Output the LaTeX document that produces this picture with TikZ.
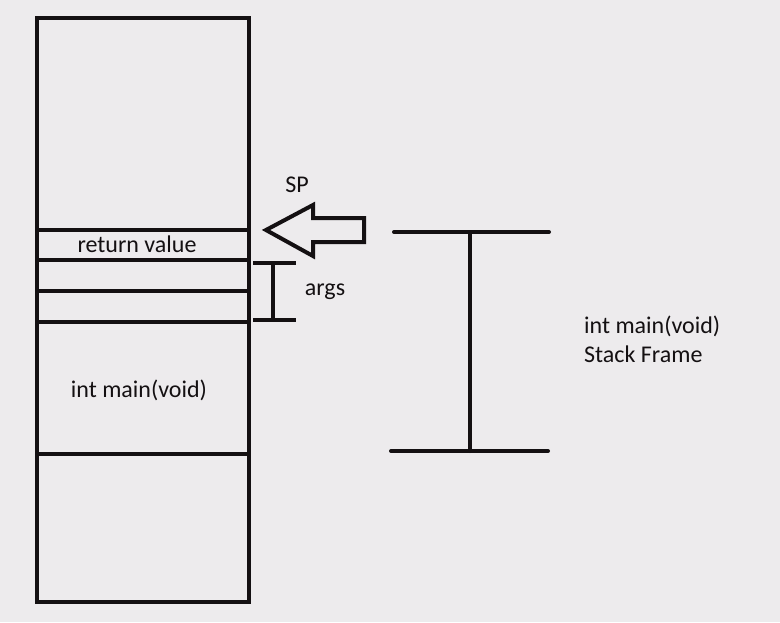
\documentclass[tikz,border=0pt]{standalone}
\usepackage{fontspec}
\setmainfont{Carlito}
\usepackage{tikz}
\usetikzlibrary{positioning,calc}
\definecolor{fond}{RGB}{237,235,237}
\definecolor{encre}{RGB}{20,16,18}

\begin{document}
\begin{tikzpicture} [x=1pt, y=-1pt, line join=miter]
%styles : trait épais et texte de la pile
\tikzset{trait/.style={line width=4pt,encre}} %définition du trait
\tikzset{texte/.style={font=\fontsize{24}{29}\selectfont,text=encre,inner sep=0pt}}
\fill[fond] (0,0) rectangle (780,622);
\useasboundingbox (0,0) rectangle (780,622);
% la pile
\draw[trait] (37,17.5) rectangle (249,601.5);
\foreach \y in {230,260,291,322,454}
  \draw[trait,line width=3.5pt] (37,\y)--(249,\y);
\node[texte] (retour) at (137,244) {return value};
\node[texte] (mainpile) at (139,390) {int main(void)};
% pointeur de pile
\draw[trait] (266,230)--(313,205)--(313,218)--(364,218)--(364,242)--(313,242)--(313,256)--cycle;
\node[texte] (sp) at (297,185) {SP};
% bloc args
\draw[trait] (253,263)--(296,263) (273,263)--(273,320) (253,320)--(296,320);
\node[texte] (args) at (325,292) {args};
% cadre de pile de main
\draw[trait,line cap=round] (394,232)--(549,232) (470,232)--(470,451) (391,451)--(548,451);
\node[texte,align=left,anchor=north west] (cadre) at (584,316) {int main(void)\\Stack Frame};
\end{tikzpicture}
\end{document}
